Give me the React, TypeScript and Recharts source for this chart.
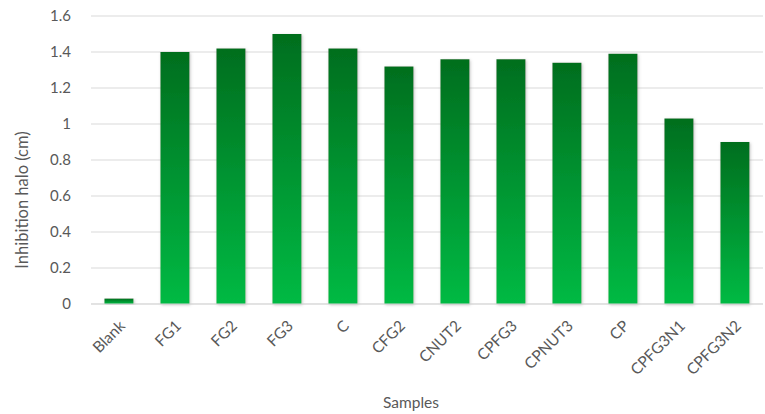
import { Bar, BarChart, CartesianGrid, XAxis, YAxis } from "recharts"

const samples = ["Blank", "FG1", "FG2", "FG3", "C", "CFG2", "CNUT2", "CPFG3", "CPNUT3", "CP", "CPFG3N1", "CPFG3N2"]
const halo = [0.03, 1.4, 1.42, 1.5, 1.42, 1.32, 1.36, 1.36, 1.34, 1.39, 1.03, 0.9]
const yTicks = [0, 0.2, 0.4, 0.6, 0.8, 1, 1.2, 1.4, 1.6]

const data = samples.map((sample, i) => ({ sample, halo: halo[i] }))

const font = "Lato, 'Open Sans', sans-serif"
const grey = "#595959"

function SampleTick({ x, y, payload }: any) {
  const tx = x + 7
  const ty = y + 15
  return (
    <text
      x={tx}
      y={ty}
      transform={`rotate(-45, ${tx}, ${ty})`}
      textAnchor="end"
      fill={grey}
      fontSize={15.5}
      fontFamily={font}
    >
      {payload.value}
    </text>
  )
}

// axis titles sit relative to the whole chart, not the plot area
function YTitle() {
  const cx = 22
  const cy = 200
  return (
    <text
      x={cx}
      y={cy}
      transform={`rotate(-90, ${cx}, ${cy})`}
      textAnchor="middle"
      dominantBaseline="central"
      fill={grey}
      fontSize={16.5}
      fontFamily={font}
    >
      Inhibition halo (cm)
    </text>
  )
}

function XTitle() {
  return (
    <text x={411} y={408} textAnchor="middle" fill={grey} fontSize={15.5} fontFamily={font}>
      Samples
    </text>
  )
}

export default function App() {
  return (
    <div style={{ width: 765, height: 414, background: "#fff" }}>
      <style>{"body{margin:0}"}</style>
      <BarChart
        width={765}
        height={414}
        data={data}
        margin={{ top: 16, right: 2, left: 0, bottom: 0 }}
        barCategoryGap="24%"
      >
        <defs>
          <linearGradient id="greenFill" x1="0" y1="0" x2="0" y2="1">
            <stop offset="0%" stopColor="#006e1e" />
            <stop offset="100%" stopColor="#00ba44" />
          </linearGradient>
          <filter id="barShadow" x="-20%" y="-5%" width="140%" height="110%">
            <feDropShadow dx="1" dy="1" stdDeviation="1.5" floodColor="#808080" floodOpacity="0.45" />
          </filter>
        </defs>
        <CartesianGrid vertical={false} stroke="#d9d9d9" />
        <XAxis
          dataKey="sample"
          height={110}
          interval={0}
          tickLine={false}
          axisLine={{ stroke: "#d9d9d9" }}
          tick={<SampleTick />}
          label={<XTitle />}
        />
        <YAxis
          width={91}
          domain={[0, 1.6]}
          ticks={yTicks}
          tickLine={false}
          axisLine={false}
          tickMargin={14}
          tick={{ fill: grey, fontSize: 15, fontFamily: font }}
          label={<YTitle />}
        />
        <Bar dataKey="halo" fill="url(#greenFill)" filter="url(#barShadow)" isAnimationActive={false} />
      </BarChart>
    </div>
  )
}
